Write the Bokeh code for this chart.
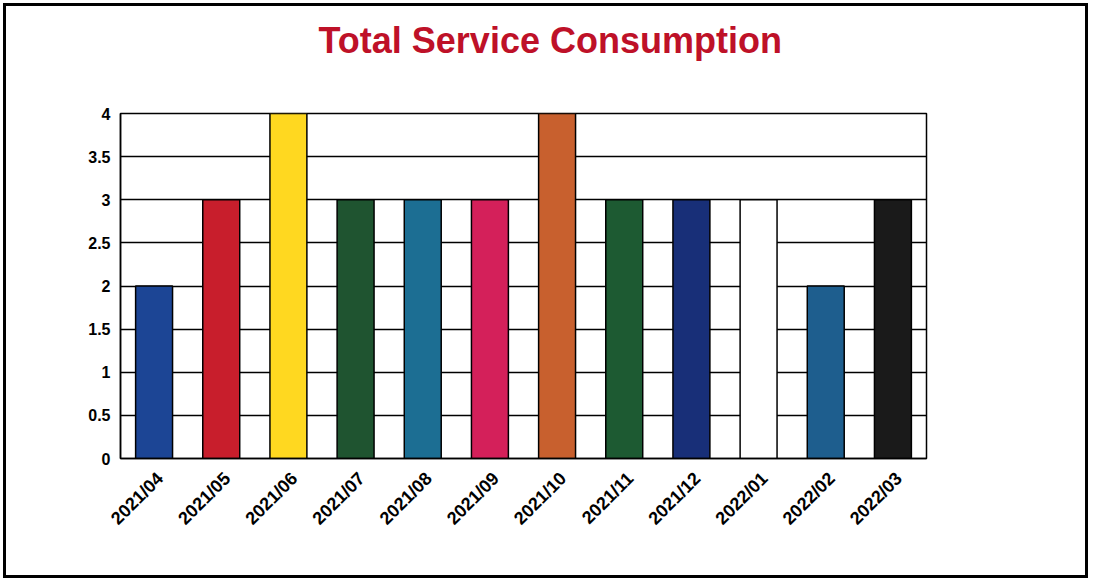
import math
from bokeh.plotting import figure
from bokeh.models import ColumnDataSource, Range1d, FixedTicker, Title
from bokeh.embed import file_html
from bokeh.resources import INLINE

# ---- data ----
months = ["2021/04", "2021/05", "2021/06", "2021/07", "2021/08", "2021/09",
          "2021/10", "2021/11", "2021/12", "2022/01", "2022/02", "2022/03"]
consumption = [2, 3, 4, 3, 3, 3, 4, 3, 3, 3, 2, 3]
bar_colors = ["#1C4595", "#C81E2C", "#FFD820", "#1F5430", "#1C6E93", "#D4205A",
              "#C8602E", "#1D5A32", "#182F78", "#FFFFFF", "#1E5E8E", "#1A1A1A"]
y_ticks = [0, 0.5, 1, 1.5, 2, 2.5, 3, 3.5, 4]
y_tick_labels = ["0", "0.5", "1", "1.5", "2", "2.5", "3", "3.5", "4"]
title_text = "Total Service Consumption"

FONT = "Liberation Sans"
LABEL_SHIFT = 0.09  # small rightward nudge of the rotated month labels (category units)

# category slots: month i occupies [i, i+1] on the x scale
slot_centers = [i + 0.5 for i in range(len(months))]
source = ColumnDataSource(dict(x=slot_centers, month=months,
                               value=consumption, color=bar_colors))

p = figure(
    x_range=Range1d(0, len(months)),
    y_range=Range1d(0, 4),
    width=1085, height=575,
    output_backend="svg", toolbar_location=None, tools="",
    min_border_left=114, min_border_right=165,
    min_border_top=107, min_border_bottom=123,
    background_fill_color="white", border_fill_color="white",
)
p.styles = {"border": "3px solid black", "margin": "3px 0 0 3px"}

# spacer (closest to the frame) then the real title above it
p.add_layout(Title(text=" ", text_font_size="1px", standoff=45), "above")
p.add_layout(Title(text=title_text, text_font=FONT, text_font_size="36px",
                   text_font_style="bold", text_color="#BE1128",
                   align="left", offset=198, standoff=10), "above")

p.vbar(x="x", top="value", width=0.55, source=source,
       fill_color="color", line_color="black", line_width=1.5)

p.outline_line_color = "black"
p.outline_line_width = 1.5
p.outline_line_alpha = 1

p.xgrid.grid_line_color = None
p.ygrid.grid_line_color = "black"
p.ygrid.grid_line_width = 1.5
p.ygrid.level = "underlay"

lab_ticks = [c + LABEL_SHIFT for c in slot_centers]
p.xaxis.ticker = FixedTicker(ticks=lab_ticks)
p.xaxis.major_label_overrides = {t: m for t, m in zip(lab_ticks, months)}

p.yaxis.ticker = FixedTicker(ticks=y_ticks)
p.yaxis.major_label_overrides = {t: l for t, l in zip(y_ticks, y_tick_labels)}
for ax in (p.xaxis, p.yaxis):
    ax.axis_line_color = "black"
    ax.axis_line_width = 1.5
    ax.major_tick_line_color = None
    ax.minor_tick_line_color = None
    ax.major_tick_out = 0
    ax.major_tick_in = 0
    ax.major_label_text_font = FONT
    ax.major_label_text_font_style = "bold"
    ax.major_label_text_color = "black"

p.yaxis.major_label_text_font_size = "16px"
p.yaxis.major_label_standoff = 10
p.xaxis.major_label_text_font_size = "18px"
p.xaxis.major_label_orientation = math.pi / 4
p.xaxis.major_label_standoff = 17

open("out.html", "w").write(file_html(p, INLINE))
